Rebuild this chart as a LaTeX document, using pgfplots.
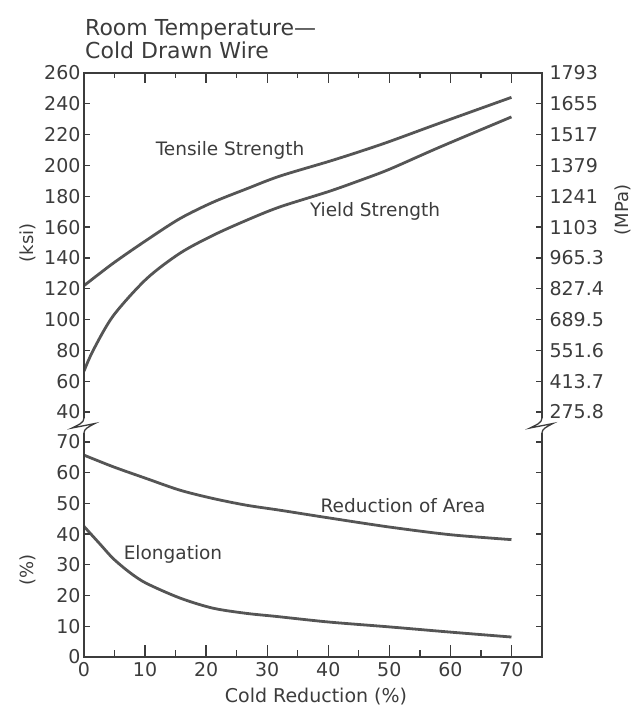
\documentclass[border=0pt]{standalone}
\usepackage{fontspec}
\setmainfont{DejaVu Sans}
\usepackage{pgfplots}
\usepackage{pgfplotstable}
\pgfplotsset{compat=1.18}
\definecolor{ink}{RGB}{60,60,60}
\definecolor{curve}{RGB}{85,85,85}

\pgfplotstableread{
x y
0 122
4.8 136.6
10.2 151.4
15.7 165.5
21.1 176.1
26.6 184.8
32 193
40 202.5
45 208.8
50 215.5
58.2 227.4
70 244.2
}\ts
\pgfplotstableread{
x y
0 66.5
1.5 80
4.8 102.5
10.2 126.3
15.7 143
21.1 154.6
26.6 164.4
32 173
40 183
45 190
50 197.5
58.2 211.8
70 231.5
}\ys
\pgfplotstableread{
x y
0 65.7
4.8 61.9
10.2 58.1
15.7 54.3
21.1 51.6
26.6 49.4
32 47.8
40 45.3
50 42.3
60 39.8
70 38.2
}\ra
\pgfplotstableread{
x y
0 42.5
2.6 36.8
4.8 32
7.5 27.5
10.2 24
15.7 19.2
21.1 15.9
26.6 14.2
31.5 13.2
40 11.4
50 9.8
60 8.1
70 6.5
}\el

\pgfplotsset{
  base/.style={scale only axis, width=458pt, xmin=0, xmax=75,
    axis line style={ink, line width=1.3pt, -},
    tick style={draw=none},
    tick align=inside,
    ticklabel style={font=\fontsize{19}{19}\selectfont, text=ink},
    /pgf/number format/assume math mode=true},
  upper/.style={base, at={(84pt,-73pt)}, anchor=north west, height=345pt, ymin=36.1, ymax=260},
  lower/.style={base, at={(84pt,-433pt)}, anchor=north west, height=224pt, ymin=0, ymax=72.9},
  crv/.style={curve, line width=2.8pt, smooth}
}

\begin{document}
\begin{tikzpicture}
\path[use as bounding box] (0pt,0pt) rectangle (644pt,-713pt);

% ---------- upper panel ----------
\begin{axis}[upper, axis x line*=top, axis y line=none, ytick=\empty,
  xtick={0,10,...,70}, xticklabels={}, major tick length=0pt]
\addplot[crv] table {\ts};
\addplot[crv] table {\ys};
\end{axis}
\begin{axis}[upper, axis x line=none, axis y line*=box, xtick=\empty,
  ytick={40,60,...,260}, ytick pos=both,
  yticklabel pos=left, major tick length=6pt]
\end{axis}
\begin{axis}[upper, axis x line=none, axis y line*=right, xtick=\empty,
  ytick={40,60,...,260}, major tick length=0pt,
  yticklabels={275.8,413.7,551.6,689.5,827.4,965.3,1103,1241,1379,1517,1655,1793},
  yticklabel style={xshift=4pt}]
\end{axis}

% ---------- lower panel ----------
\begin{axis}[lower, axis x line*=bottom, axis y line=none, ytick=\empty,
  xtick={0,10,...,70}, major tick length=12pt,
  xticklabel style={yshift=-2pt}]
\addplot[crv] table {\ra};
\addplot[crv] table {\el};
\end{axis}
\begin{axis}[lower, axis x line=none, axis y line*=box, xtick=\empty,
  ytick={0,10,...,70}, ytick pos=both,
  yticklabel pos=left, major tick length=6pt]
\end{axis}

% ---------- frame with breaks ----------
\begin{scope}[ink, line width=1.3pt]
\draw (84pt,-418pt) -- (84pt,-73pt) -- (542pt,-73pt) -- (542pt,-418pt);
\draw (84pt,-433pt) -- (84pt,-657pt) -- (542pt,-657pt) -- (542pt,-433pt);
\foreach \X in {84,542}{
  \draw ({\X*1pt},-418pt) .. controls ({\X*1pt},-423pt) and ({\X*1pt-6pt},-425pt) .. ({\X*1pt-12pt},-428pt)
        -- ({\X*1pt+11pt},-423.5pt) .. controls ({\X*1pt+4pt},-427pt) and ({\X*1pt},-429pt) .. ({\X*1pt},-433pt);
}
% tick marks of the frame (axis decoration)
\foreach \v in {10,20,...,70}{
  \draw ({(84+\v*6.106667)*1pt},-73pt) -- ++(0pt,-10pt);
  \draw ({(84+\v*6.106667)*1pt},-657pt) -- ++(0pt,12pt);
}
\foreach \v in {5,15,...,65}{
  \draw ({(84+\v*6.106667)*1pt},-73pt) -- ++(0pt,-5pt);
  \draw ({(84+\v*6.106667)*1pt},-657pt) -- ++(0pt,7pt);
}
\foreach \v in {40,60,...,240}{
  \draw (84pt,{-(73+(260-\v)*1.540866)*1pt}) -- ++(6pt,0pt);
  \draw (542pt,{-(73+(260-\v)*1.540866)*1pt}) -- ++(-6pt,0pt);
}
\foreach \v in {10,20,...,70}{
  \draw (84pt,{-(433+(72.9-\v)*3.072702)*1pt}) -- ++(6pt,0pt);
  \draw (542pt,{-(433+(72.9-\v)*3.072702)*1pt}) -- ++(-6pt,0pt);
}
\end{scope}

% ---------- texts ----------
\begin{scope}[text=ink]
\node[anchor=base west, inner sep=0, font=\fontsize{22}{22}\selectfont] at (85pt,-35pt) {Room Temperature—};
\node[anchor=base west, inner sep=0, font=\fontsize{22}{22}\selectfont] at (85pt,-58pt) {Cold Drawn Wire};
\node[font=\fontsize{18.5}{18.5}\selectfont] at (230pt,-150pt) {Tensile Strength};
\node[font=\fontsize{18.5}{18.5}\selectfont] at (375pt,-211pt) {Yield Strength};
\node[font=\fontsize{18.5}{18.5}\selectfont] at (403pt,-506pt) {Reduction of Area};
\node[font=\fontsize{18.5}{18.5}\selectfont] at (173pt,-554pt) {Elongation};
\node[font=\fontsize{19}{19}\selectfont] at (316pt,-697pt) {Cold Reduction (\%)};
\node[rotate=90, font=\fontsize{18}{18}\selectfont] at (28pt,-243pt) {(ksi)};
\node[rotate=90, font=\fontsize{18}{18}\selectfont] at (28pt,-570pt) {(\%)};
\node[rotate=90, font=\fontsize{18}{18}\selectfont] at (623pt,-210pt) {(MPa)};
\end{scope}
\end{tikzpicture}
\end{document}
